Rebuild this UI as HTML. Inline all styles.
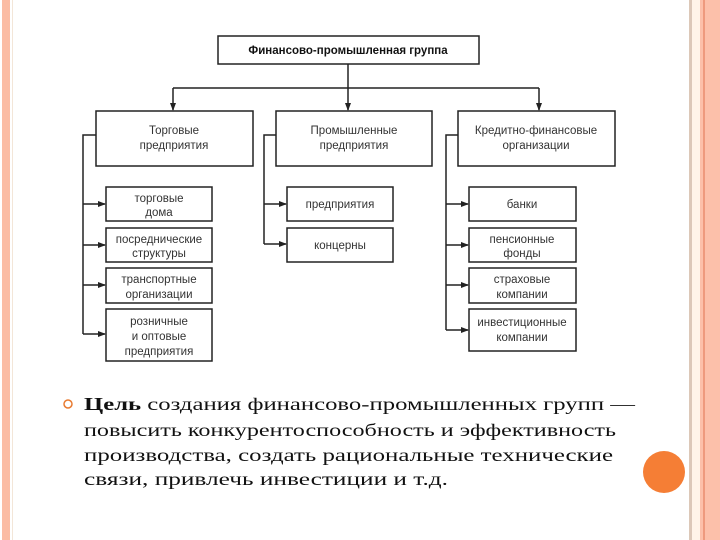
<!DOCTYPE html>
<html><head><meta charset="utf-8"><style>
html,body{margin:0;padding:0;background:#fff;}
svg{display:block;}
</style></head><body>
<svg width="720" height="540" xmlns="http://www.w3.org/2000/svg">
<rect x="0" y="0" width="720" height="540" fill="#fff"/>
<rect x="2" y="0" width="8" height="540" fill="#fbbca4"/>
<rect x="12" y="0" width="1" height="540" fill="#f3e6d8"/>
<rect x="689" y="0" width="3" height="540" fill="#dcc8b8"/>
<rect x="692" y="0" width="8" height="540" fill="#fff4e8"/>
<rect x="700" y="0" width="20" height="540" fill="#fcc0aa"/>
<rect x="703" y="0" width="2" height="540" fill="#ee9a7e"/>
<defs><marker id="a" markerWidth="8" markerHeight="8" refX="7" refY="4" orient="auto" markerUnits="userSpaceOnUse"><path d="M0,1 L8,4 L0,7 z" fill="#222"/></marker></defs>
<g fill="none" stroke="#222" stroke-width="1.5">
<rect x="218" y="36" width="261" height="28"/>
<rect x="96" y="111" width="157" height="55"/>
<rect x="276" y="111" width="156" height="55"/>
<rect x="458" y="111" width="157" height="55"/>
<path d="M348,64 V110" marker-end="url(#a)"/>
<path d="M173,88 H539"/>
<path d="M173,88 V110" marker-end="url(#a)"/>
<path d="M539,88 V110" marker-end="url(#a)"/>
<rect x="106" y="187" width="106" height="34"/>
<rect x="106" y="228" width="106" height="34"/>
<rect x="106" y="268" width="106" height="35"/>
<rect x="106" y="309" width="106" height="52"/>
<rect x="287" y="187" width="106" height="34"/>
<rect x="287" y="228" width="106" height="34"/>
<rect x="469" y="187" width="107" height="34"/>
<rect x="469" y="228" width="107" height="34"/>
<rect x="469" y="268" width="107" height="35"/>
<rect x="469" y="309" width="107" height="42"/>
<path d="M96,135 H83 V334"/>
<path d="M276,135 H264 V244"/>
<path d="M458,135 H446 V330"/>
<path d="M83,204 H105" marker-end="url(#a)"/>
<path d="M83,245 H105" marker-end="url(#a)"/>
<path d="M83,285 H105" marker-end="url(#a)"/>
<path d="M83,334 H105" marker-end="url(#a)"/>
<path d="M264,204 H286" marker-end="url(#a)"/>
<path d="M264,244 H286" marker-end="url(#a)"/>
<path d="M446,204 H468" marker-end="url(#a)"/>
<path d="M446,245 H468" marker-end="url(#a)"/>
<path d="M446,285 H468" marker-end="url(#a)"/>
<path d="M446,330 H468" marker-end="url(#a)"/>
</g>
<g font-family="Liberation Sans, DejaVu Sans, sans-serif" font-size="11.5" fill="#333" text-anchor="middle">
<text x="348" y="54" font-weight="bold" fill="#111" font-size="11.5">Финансово-промышленная группа</text>
<text x="174" y="134">Торговые</text><text x="174" y="149">предприятия</text>
<text x="354" y="134">Промышленные</text><text x="354" y="149">предприятия</text>
<text x="536" y="134">Кредитно-финансовые</text><text x="536" y="149">организации</text>
<text x="159" y="202">торговые</text><text x="159" y="216">дома</text>
<text x="159" y="243">посреднические</text><text x="159" y="257">структуры</text>
<text x="159" y="283">транспортные</text><text x="159" y="298">организации</text>
<text x="159" y="325">розничные</text><text x="159" y="340">и оптовые</text><text x="159" y="355">предприятия</text>
<text x="340" y="208">предприятия</text>
<text x="340" y="249">концерны</text>
<text x="522" y="208">банки</text>
<text x="522" y="243">пенсионные</text><text x="522" y="257">фонды</text>
<text x="522" y="283">страховые</text><text x="522" y="298">компании</text>
<text x="522" y="326">инвестиционные</text><text x="522" y="341">компании</text>
</g>
<circle cx="68" cy="404" r="4" fill="none" stroke="#e87a30" stroke-width="1.5"/>
<g font-family="Liberation Serif, DejaVu Serif, serif" font-size="18" fill="#111">
<text x="84" y="410" textLength="551" lengthAdjust="spacingAndGlyphs"><tspan font-weight="bold">Цель</tspan> создания финансово-промышленных групп —</text>
<text x="84" y="436" textLength="532" lengthAdjust="spacingAndGlyphs">повысить конкурентоспособность и эффективность</text>
<text x="84" y="461" textLength="529" lengthAdjust="spacingAndGlyphs">производства, создать рациональные технические</text>
<text x="84" y="485" textLength="364" lengthAdjust="spacingAndGlyphs">связи, привлечь инвестиции и т.д.</text>
</g>
<circle cx="664" cy="472" r="21" fill="#f57e35"/>
</svg>
</body></html>
